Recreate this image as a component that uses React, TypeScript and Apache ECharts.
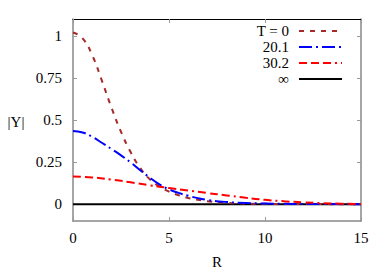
import React, { useEffect, useRef } from "react";
import * as echarts from "echarts";

const R0: number[] = [0, 0.5, 1, 1.5, 2, 2.5, 3, 3.5, 4, 4.5, 5, 5.5, 6, 6.5, 7, 8, 9, 10, 11, 12, 13, 14, 15];
const Y0: number[] = [1.02, 0.985, 0.885, 0.735, 0.575, 0.43, 0.31, 0.215, 0.148, 0.105, 0.075, 0.053, 0.037, 0.026, 0.018, 0.008, 0.004, 0.002, 0.001, 0.0005, 0.0003, 0.0002, 0.0001];

const R1: number[] = [0, 0.5, 1, 1.5, 2, 2.5, 3, 3.5, 4, 4.5, 5, 5.5, 6, 6.5, 7, 8, 9, 10, 11, 12, 13, 14, 15];
const Y1: number[] = [0.435, 0.426, 0.4, 0.365, 0.328, 0.29, 0.248, 0.202, 0.157, 0.118, 0.088, 0.067, 0.05, 0.036, 0.025, 0.013, 0.007, 0.004, 0.002, 0.001, 0.0006, 0.0003, 0.0002];

const R2: number[] = [0, 1, 2, 3, 4, 5, 6, 7, 8, 9, 10, 11, 12, 13, 14, 15];
const Y2: number[] = [0.165, 0.159, 0.146, 0.13, 0.112, 0.096, 0.081, 0.066, 0.052, 0.038, 0.026, 0.017, 0.011, 0.006, 0.003, 0.001];

const RInf: number[] = [0, 15];
const YInf: number[] = [0, 0];

const legendLabels: string[] = ["T = 0", "20.1", "30.2", "∞"];
const yTickValues: number[] = [0, 0.25, 0.5, 0.75, 1];
const colors: string[] = ["#a52a2a", "#0000ff", "#ff0000", "#000000"];
const dashes: (number[] | string)[] = [[5, 6], [13, 4, 2, 4], [8, 4, 8, 4, 8, 4, 2, 4], "solid"];

const FONT = "Liberation Serif";

export default function App() {
  const ref = useRef<HTMLDivElement>(null);
  useEffect(() => {
    if (!ref.current) return;
    const chart = echarts.init(ref.current, undefined, { renderer: "svg" });
    const pairs = (xs: number[], ys: number[]) => xs.map((x, i) => [x, ys[i]]);
    const seriesData = [pairs(R0, Y0), pairs(R1, Y1), pairs(R2, Y2), pairs(RInf, YInf)];
    const legendGraphics: any[] = [];
    legendLabels.forEach((lab, i) => {
      const y = 31 + i * 16;
      legendGraphics.push({
        type: "text",
        x: 289,
        y,
        style: { text: lab, fill: "#000", fontSize: 15, fontFamily: FONT, textAlign: "right", textVerticalAlign: "middle" },
      });
      legendGraphics.push({
        type: "line",
        shape: { x1: 299, y1: y, x2: 342, y2: y },
        style: { stroke: colors[i], lineWidth: 2, lineDash: dashes[i] === "solid" ? null : dashes[i] },
      });
    });
    const tickStyle = { color: "#999" };
    chart.setOption({
      animation: false,
      textStyle: { fontFamily: FONT },
      grid: { left: 73, top: 19, right: 29, bottom: 52 },
      xAxis: [
        {
          type: "value",
          min: 0,
          max: 15,
          interval: 5,
          position: "bottom",
          axisLine: { show: true, onZero: false, lineStyle: { color: "#888", width: 1.5 } },
          axisTick: { show: true, inside: true, length: 4, lineStyle: tickStyle },
          axisLabel: { color: "#000", fontSize: 15, fontFamily: FONT, margin: 9 },
          splitLine: { show: false },
        },
        {
          type: "value",
          min: 0,
          max: 15,
          interval: 5,
          position: "top",
          axisLine: { show: true, onZero: false, lineStyle: { color: "#000", width: 1 } },
          axisTick: { show: true, inside: true, length: 4, lineStyle: tickStyle },
          axisLabel: { show: false },
          splitLine: { show: false },
        },
      ],
      yAxis: [
        {
          type: "value",
          min: -0.1,
          max: 1.1,
          position: "left",
          axisLine: { show: true, onZero: false, lineStyle: { color: "#888", width: 1.5 } },
          axisTick: { show: true, inside: true, length: 4, lineStyle: tickStyle, customValues: yTickValues },
          axisLabel: {
            color: "#000",
            fontSize: 15,
            fontFamily: FONT,
            margin: 11,
            customValues: yTickValues,
            formatter: (v: number) => String(v),
          },
          splitLine: { show: false },
        },
        {
          type: "value",
          min: -0.1,
          max: 1.1,
          position: "right",
          axisLine: { show: true, onZero: false, lineStyle: { color: "#888", width: 1.5 } },
          axisTick: { show: true, inside: true, length: 4, lineStyle: tickStyle, customValues: yTickValues },
          axisLabel: { show: false },
          splitLine: { show: false },
        },
      ],
      series: seriesData.map((d, i) => ({
        type: "line",
        name: legendLabels[i],
        data: d,
        xAxisIndex: 0,
        yAxisIndex: 0,
        showSymbol: false,
        smooth: i < 3 ? 0.5 : false,
        lineStyle: { color: colors[i], width: 2, type: dashes[i] },
        z: i === 3 ? 1 : 3,
      })),
      graphic: [
        ...legendGraphics,
        { type: "text", x: 16, y: 122, style: { text: "|Y|", fill: "#000", fontSize: 15, fontFamily: FONT, textAlign: "center", textVerticalAlign: "middle" } },
        { type: "text", x: 217, y: 262, style: { text: "R", fill: "#000", fontSize: 15, fontFamily: FONT, textAlign: "center", textVerticalAlign: "middle" } },
      ],
    });
    return () => chart.dispose();
  }, []);
  return <div ref={ref} style={{ width: 390, height: 273, position: "absolute", left: 0, top: 0 }} />;
}
